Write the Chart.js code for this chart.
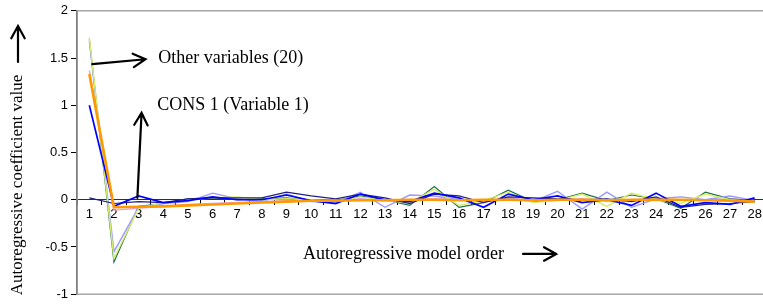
<!DOCTYPE html>
<html>
<head>
<meta charset="utf-8">
<script src="https://cdn.jsdelivr.net/npm/chart.js@4/dist/chart.umd.min.js"></script>
<style>
    html, body { margin: 0; padding: 0; background: #fff; overflow: hidden; }
    #wrap { width: 775px; height: 305px; }
</style>
</head>
<body>
<div id="wrap"><canvas id="chart"></canvas></div>
<script>
// model orders 1..28
const orders = ['1','2','3','4','5','6','7','8','9','10','11','12','13','14','15','16','17','18','19','20','21','22','23','24','25','26','27','28'];
const yTicks = [-1, -0.5, 0, 0.5, 1, 1.5, 2];

const orangeVar = [1.33,-0.08,-0.075,-0.07,-0.06,-0.05,-0.04,-0.03,-0.02,-0.01,-0.01,-0.005,-0.005,0,0,-0.005,0,0,-0.005,0,0,-0.005,0,0,0,-0.005,-0.01,-0.02];
const cons1 = [1.0,-0.07,0.04,-0.03,-0.01,0.03,0.0,0.0,0.05,-0.01,-0.04,0.06,0.0,-0.02,0.07,0.02,-0.08,0.06,0.0,0.04,-0.03,0.0,-0.06,0.07,-0.07,-0.03,-0.05,0.02];
const navyVar = [0.02,-0.04,-0.02,-0.03,0.01,0.02,0.02,0.02,0.08,0.04,0.01,0.06,0.02,-0.04,0.06,0.04,-0.03,0.03,0.02,0.01,0.0,0.01,-0.02,0.03,-0.08,-0.05,-0.04,-0.02];
const lavenderVar = [1.68,-0.55,-0.08,-0.04,-0.02,0.07,0.01,-0.02,0.06,-0.02,-0.03,0.08,-0.08,0.05,0.04,0.0,-0.02,0.02,-0.02,0.09,-0.1,0.08,-0.08,0.01,0.03,0.0,0.04,-0.01];
const greenVar = [1.70,-0.66,-0.07,-0.04,0.01,0.02,0.0,0.01,0.02,-0.01,-0.01,0.04,0.0,-0.06,0.14,-0.08,-0.03,0.10,-0.02,0.0,0.07,-0.01,0.05,0.01,-0.09,0.08,0.01,-0.01];
const yellowVar = [1.72,-0.62,-0.09,-0.03,0.0,0.02,0.03,0.0,0.01,0.0,-0.02,0.03,-0.01,-0.03,0.11,-0.06,-0.01,0.08,-0.03,-0.01,0.06,-0.07,0.07,0.0,-0.04,0.06,0.0,-0.02];
const pinkVar = [1.37,-0.11,-0.09,-0.07,-0.05,-0.04,-0.03,-0.02,-0.01,-0.01,0.0,0.01,-0.01,0.0,0.01,0.0,-0.01,0.01,0.0,0.0,0.01,-0.01,0.0,0.01,0.0,0.0,0.01,-0.01];

function line(data, color, width) {
    return { data, borderColor: color, borderWidth: width, pointRadius: 0, tension: 0, fill: false };
}

function arrow(ctx, x1, y1, x2, y2) {
    const a = Math.atan2(y2 - y1, x2 - x1);
    const len = 14, spread = 0.5;
    ctx.beginPath();
    ctx.moveTo(x1, y1);
    ctx.lineTo(x2, y2);
    ctx.moveTo(x2 - len * Math.cos(a - spread), y2 - len * Math.sin(a - spread));
    ctx.lineTo(x2, y2);
    ctx.lineTo(x2 - len * Math.cos(a + spread), y2 - len * Math.sin(a + spread));
    ctx.stroke();
}

const serif = "'Liberation Serif', 'Times New Roman', serif";

const notes = {
    id: 'notes',
    afterDraw(chart) {
        const ctx = chart.ctx;
        const xs = chart.scales.x, ys = chart.scales.y;
        const px = v => xs.getPixelForValue(v), py = v => ys.getPixelForValue(v);
        ctx.save();
        ctx.strokeStyle = '#000';
        ctx.fillStyle = '#000';
        ctx.lineWidth = 2.2;
        ctx.lineCap = 'round';
        ctx.font = '18px ' + serif;
        ctx.textBaseline = 'middle';
        ctx.textAlign = 'left';

        ctx.fillText('Other variables (20)', px(2.8), py(1.5));
        arrow(ctx, px(0.12), py(1.436), px(2.28), py(1.487));

        ctx.fillText('CONS 1 (Variable 1)', px(2.76), py(0.995));
        arrow(ctx, px(1.95), py(0.02), px(2.12), py(0.92));

        ctx.textAlign = 'center';
        ctx.fillText('Autoregressive model order', px(12.75), py(-0.574));
        arrow(ctx, px(17.6), py(-0.574), px(18.95), py(-0.574));

        arrow(ctx, 18, 62, 18, 26);
        ctx.font = '17px ' + serif;
        ctx.translate(18, 185);
        ctx.rotate(-Math.PI / 2);
        ctx.fillText('Autoregressive coefficient value', 0, 0);
        ctx.restore();
    }
};

const frame = {
    id: 'frame',
    beforeDatasetsDraw(chart) {
        const { ctx, chartArea: a } = chart;
        ctx.save();
        ctx.strokeStyle = '#a6a6a6';
        ctx.lineWidth = 1.5;
        ctx.strokeRect(a.left, a.top, a.right - a.left, a.bottom - a.top);
        ctx.restore();
    }
};

new Chart(document.getElementById('chart'), {
    type: 'line',
    data: {
        labels: orders,
        datasets: [
            line(orangeVar, '#ff9900', 2.6),
            line(cons1, '#0000ff', 1.7),
            line(navyVar, '#202080', 1.2),
            line(yellowVar, '#d6ee6a', 1.4),
            line(lavenderVar, '#9999ff', 1.4),
            line(greenVar, '#1e6e4e', 1.2),
            line(pinkVar, '#e8a0e0', 1.4)
        ]
    },
    options: {
        responsive: true,
        maintainAspectRatio: false,
        animation: false,
        events: [],
        layout: { padding: { left: 0, top: 8, right: 8, bottom: 5 } },
        plugins: { legend: { display: false }, tooltip: { enabled: false } },
        scales: {
            x: {
                type: 'category',
                position: { y: 0 },
                offset: true,
                afterFit: s => { s.height = 0; },
                grid: { offset: true, drawOnChartArea: false, drawTicks: true, tickLength: 5, color: '#000' },
                border: { display: true, color: '#303030', width: 1 },
                ticks: { color: '#000', padding: 2, maxRotation: 0, autoSkip: false,
                         font: { family: "'Liberation Sans', Arial, sans-serif", size: 13 } }
            },
            y: {
                min: -1,
                max: 2,
                afterFit: s => { s.width = 77; },
                afterBuildTicks: s => { s.ticks = yTicks.map(v => ({ value: v })); },
                grid: { drawOnChartArea: false, tickLength: 6, color: '#000' },
                border: { display: true, color: '#000', width: 1.5 },
                ticks: { color: '#000', padding: 3, callback: v => String(v),
                         font: { family: "'Liberation Sans', Arial, sans-serif", size: 13 } }
            }
        }
    },
    plugins: [frame, notes]
});
</script>
</body>
</html>
